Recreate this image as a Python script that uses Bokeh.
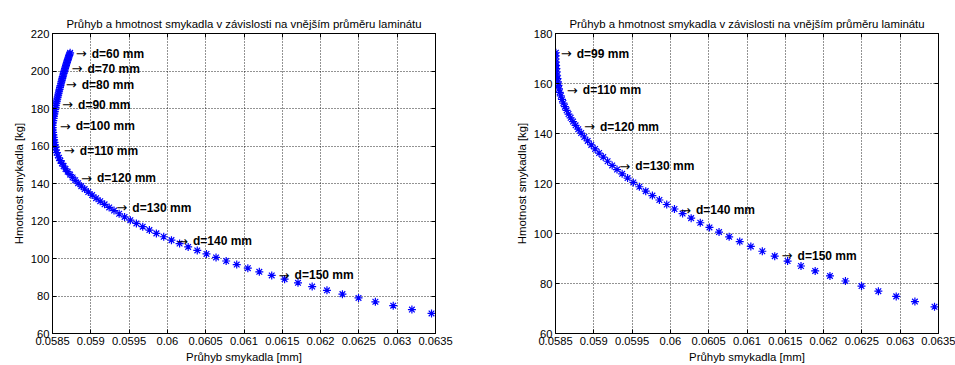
from bokeh.plotting import figure
from bokeh.models import FixedTicker, LinearAxis, Range1d
from bokeh.layouts import row
from bokeh.embed import file_html
from bokeh.resources import INLINE
from bokeh.core.properties import value

# ---------------- data ----------------
diameter = list(range(60, 161))  # outer laminate diameter [mm]

deflection = [
    0.058730, 0.058724, 0.058718, 0.058712, 0.058706, 0.058700, 0.058694, 0.058688, 0.058682, 0.058676,
    0.058670, 0.058664, 0.058658, 0.058652, 0.058646, 0.058640, 0.058634, 0.058628, 0.058622, 0.058616,
    0.058610, 0.058604, 0.058598, 0.058592, 0.058586, 0.058580, 0.058574, 0.058568, 0.058562, 0.058556,
    0.058550, 0.058545, 0.058540, 0.058535, 0.058530, 0.058525, 0.058520, 0.058515, 0.058510, 0.058505,
    0.058503, 0.058503, 0.058505, 0.058508, 0.058512, 0.058516, 0.058521, 0.058526, 0.058532, 0.058539,
    0.058546, 0.058555, 0.058569, 0.058585, 0.058603, 0.058623, 0.058645, 0.058670, 0.058698, 0.058729,
    0.058762, 0.058797, 0.058835, 0.058876, 0.058920, 0.058967, 0.059017, 0.059069, 0.059123, 0.059180,
    0.059240, 0.059303, 0.059370, 0.059441, 0.059516, 0.059595, 0.059678, 0.059765, 0.059856, 0.059952,
    0.060053, 0.060159, 0.060271, 0.060390, 0.060510, 0.060635, 0.060767, 0.060905, 0.061050, 0.061200,
    0.061362, 0.061530, 0.061705, 0.061890, 0.062083, 0.062285, 0.062495, 0.062715, 0.062948, 0.063192,
    0.063448,
]

mass = [
    209.70, 209.01, 208.30, 207.59, 206.85, 206.11, 205.35, 204.57, 203.78, 202.98,
    202.16, 201.33, 200.48, 199.62, 198.75, 197.86, 196.96, 196.04, 195.11, 194.17,
    193.21, 192.23, 191.25, 190.25, 189.23, 188.20, 187.16, 186.10, 185.03, 183.94,
    182.84, 181.73, 180.60, 179.46, 178.30, 177.13, 175.94, 174.74, 173.53, 172.30,
    171.06, 169.80, 168.53, 167.25, 165.95, 164.64, 163.31, 161.97, 160.62, 159.25,
    157.86, 156.47, 155.06, 153.63, 152.19, 150.74, 149.27, 147.79, 146.29, 144.78,
    143.26, 141.72, 140.17, 138.60, 137.02, 135.43, 133.82, 132.19, 130.56, 128.90,
    127.24, 125.56, 123.86, 122.16, 120.43, 118.70, 116.95, 115.18, 113.40, 111.61,
    109.80, 107.98, 106.15, 104.30, 102.43, 100.56, 98.66, 96.76, 94.84, 92.90,
    90.95, 88.99, 87.01, 85.02, 83.02, 81.00, 78.96, 76.92, 74.85, 72.78,
    70.69,
]

arrow = "→"
left_label_text = ["d=60 mm", "d=70 mm", "d=80 mm", "d=90 mm", "d=100 mm",
                   "d=110 mm", "d=120 mm", "d=130 mm", "d=140 mm", "d=150 mm"]
left_label_x = [0.058804, 0.058748, 0.058673, 0.058625, 0.058595,
                0.058648, 0.058872, 0.059333, 0.060125, 0.061452]
left_label_y = [209.2, 201.2, 192.6, 182.0, 170.6, 157.4, 142.7, 127.0, 109.3, 91.1]

right_min_diameter = 99
right_label_text = ["d=99 mm", "d=110 mm", "d=120 mm", "d=130 mm", "d=140 mm", "d=150 mm"]
right_label_x = [0.058569, 0.058648, 0.058872, 0.059333, 0.060125, 0.061452]
right_label_y = [171.9, 157.4, 142.7, 127.0, 109.3, 91.1]

x_ticks = [0.0585, 0.059, 0.0595, 0.06, 0.0605, 0.061, 0.0615, 0.062, 0.0625, 0.063, 0.0635]
x_tick_labels = ["0.0585", "0.059", "0.0595", "0.06", "0.0605", "0.061",
                 "0.0615", "0.062", "0.0625", "0.063", "0.0635"]
y_ticks_left = [60, 80, 100, 120, 140, 160, 180, 200, 220]
y_ticks_right = [60, 80, 100, 120, 140, 160, 180]

title_text = "Průhyb a hmotnost smykadla v závislosti na vnějším průměru laminátu"
x_label = "Průhyb smykadla [mm]"
y_label = "Hmotnost smykadla [kg]"

FONT = "Liberation Sans"


def make_fig(xs, ys, lx, ly, lt, yticks, border_left, border_right):
    p = figure(output_backend="svg", toolbar_location=None,
               frame_width=383, frame_height=300,
               min_border_left=border_left, min_border_right=border_right,
               min_border_top=33, min_border_bottom=32,
               x_range=Range1d(x_ticks[0], x_ticks[-1]),
               y_range=Range1d(yticks[0], yticks[-1]),
               background_fill_color="white", border_fill_color="white")
    p.title.text = title_text
    p.title.align = "center"
    p.title.text_font = FONT
    p.title.text_font_size = "11.4px"
    p.title.text_font_style = "normal"
    p.title.text_color = "black"
    p.title.standoff = 8

    p.outline_line_color = "black"
    p.outline_line_alpha = 1.0

    p.xaxis.ticker = FixedTicker(ticks=x_ticks)
    p.xaxis.major_label_overrides = dict(zip(x_ticks, x_tick_labels))
    p.yaxis.ticker = FixedTicker(ticks=yticks)
    p.xaxis.axis_label = x_label
    p.yaxis.axis_label = y_label
    for ax in (p.xaxis, p.yaxis):
        ax.axis_label_text_font = FONT
        ax.axis_label_text_font_size = "11.4px"
        ax.axis_label_text_font_style = "normal"
        ax.axis_label_text_color = "black"
        ax.major_label_text_font = FONT
        ax.major_label_text_font_size = "11.2px"
        ax.major_label_text_color = "black"
        ax.major_tick_in = 4
        ax.major_tick_out = 0
        ax.minor_tick_line_color = None
        ax.axis_line_color = "black"
        ax.major_tick_line_color = "black"
        ax.major_label_standoff = 3
        ax.axis_label_standoff = 3

    for side, tk in (("above", x_ticks), ("right", yticks)):
        extra = LinearAxis(ticker=FixedTicker(ticks=tk), major_label_text_font_size="0px",
                           major_label_text_color=None,
                           major_tick_in=4, major_tick_out=0, minor_tick_line_color=None,
                           axis_line_color="black", major_label_standoff=0)
        p.add_layout(extra, side)

    p.xgrid.ticker = FixedTicker(ticks=x_ticks)
    p.ygrid.ticker = FixedTicker(ticks=yticks)
    for g in (p.xgrid, p.ygrid):
        g.grid_line_color = "black"
        g.grid_line_dash = "1 2"
        g.grid_line_alpha = 0.85
        g.grid_line_width = 1

    p.scatter(xs, ys, marker="asterisk", size=8, line_color="#0000ff", line_width=1.2)
    p.text(lx, ly, text=[arrow] * len(lt), text_font=value("DejaVu Sans"),
           text_font_size="13px", text_baseline="middle", text_align="left",
           text_color="black")
    p.text(lx, ly, text=lt, x_offset=16, text_font=value(FONT), text_font_style="bold",
           text_font_size="12px", text_baseline="middle", text_align="left",
           text_color="black")
    return p


p1 = make_fig(deflection, mass, left_label_x, left_label_y, left_label_text,
              y_ticks_left, 52, 42)

rx = [w for w, d in zip(deflection, diameter) if d >= right_min_diameter]
ry = [m for m, d in zip(mass, diameter) if d >= right_min_diameter]
p2 = make_fig(rx, ry, right_label_x, right_label_y, right_label_text,
              y_ticks_right, 78, 17)

layout = row(p1, p2)
open("out.html", "w").write(file_html(layout, INLINE))
